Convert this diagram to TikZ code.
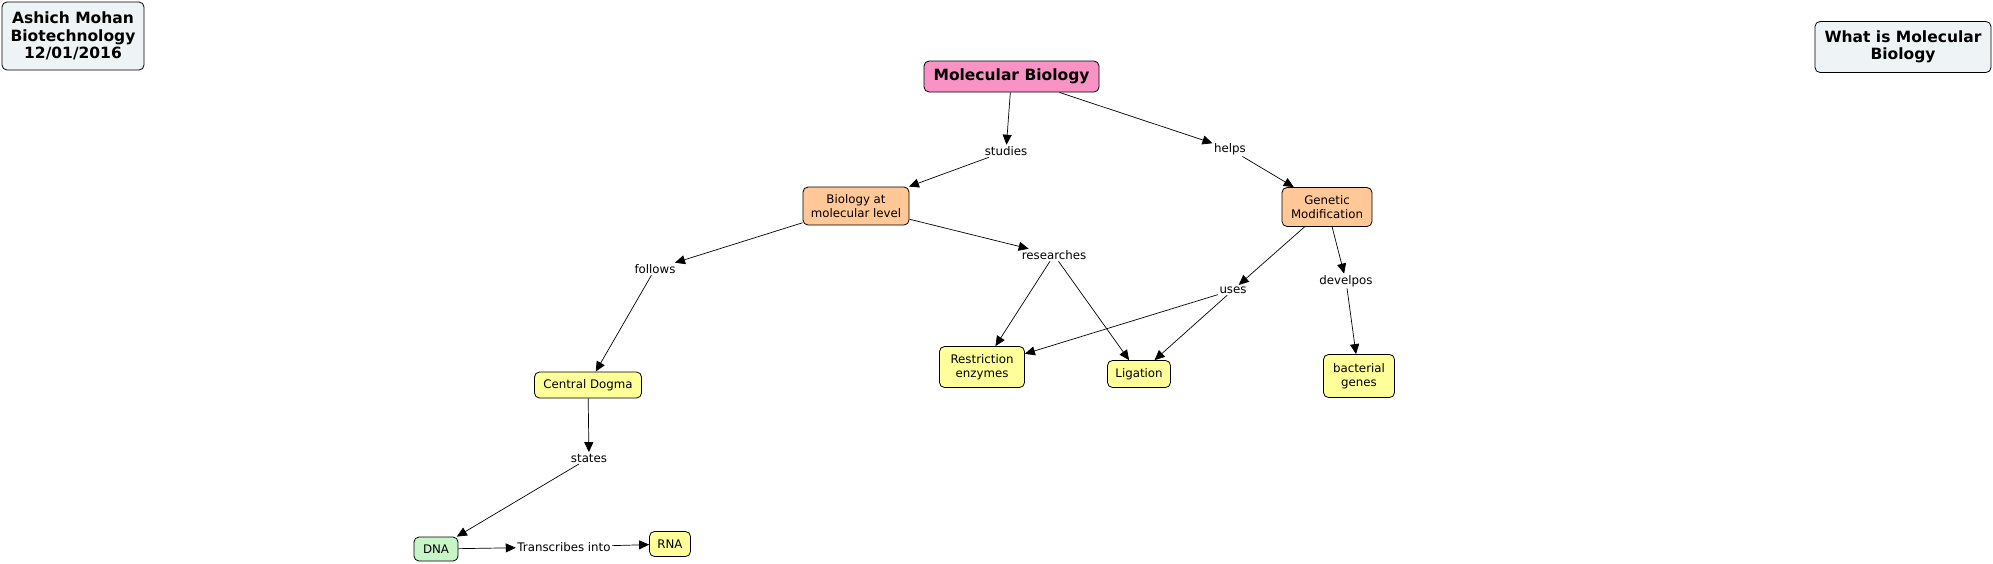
\documentclass[tikz,border=0pt]{standalone}
\usepackage{fontspec}
\setmainfont{DejaVu Sans}
\usetikzlibrary{arrows.meta}
\definecolor{cpink}{HTML}{F993C5}
\definecolor{corange}{HTML}{FFC896}
\definecolor{cyellow}{HTML}{FFFF99}
\definecolor{cgreen}{HTML}{C8F5C8}
\definecolor{ccorner}{HTML}{EEF4F6}
\tikzset{
  concept/.style={draw, rounded corners=5pt, line width=0.8pt, align=center, inner sep=2pt, font=\fontsize{11.8}{14}\selectfont},
  titlebox/.style={concept, font=\fontsize{15.5}{17.5}\selectfont\bfseries},
  lbl/.style={inner sep=1.5pt, font=\fontsize{11.8}{14}\selectfont},
  link/.style={draw, line width=0.7pt, -{Triangle[length=10pt,width=9pt]}},
}
\begin{document}
\begin{tikzpicture}[x=1pt,y=-1pt]
\useasboundingbox[fill=white] (0,0) rectangle (1993,563);
% concepts
\node[titlebox, fill=ccorner, minimum width=142pt, minimum height=68pt] (ashich) at (73,36) {Ashich Mohan\\Biotechnology\\12/01/2016};
\node[titlebox, fill=ccorner, minimum width=176pt, minimum height=51pt] (what) at (1903,47) {What is Molecular\\Biology};
\node[titlebox, fill=cpink, minimum width=175pt, minimum height=31pt] (mb) at (1011.5,76.5) {Molecular Biology};
\node[concept, fill=corange, minimum width=106pt, minimum height=38pt] (bio) at (856,206) {Biology at\\molecular level};
\node[concept, fill=corange, minimum width=90pt, minimum height=39pt] (gm) at (1327,207) {Genetic\\Modification};
\node[concept, fill=cyellow, minimum width=107pt, minimum height=26pt] (cd) at (588,385) {Central Dogma};
\node[concept, fill=cyellow, minimum width=85pt, minimum height=41pt] (re) at (982,367) {Restriction\\enzymes};
\node[concept, fill=cyellow, minimum width=63pt, minimum height=27pt] (lig) at (1139,374) {Ligation};
\node[concept, fill=cyellow, minimum width=71pt, minimum height=43pt] (bg) at (1359,376) {bacterial\\genes};
\node[concept, fill=cgreen, minimum width=44pt, minimum height=24pt] (dna) at (436,549) {DNA};
\node[concept, fill=cyellow, minimum width=41pt, minimum height=25pt] (rna) at (670,544) {RNA};
% link labels
\node[lbl] (studies) at (1006,151) {studies};
\node[lbl] (helps) at (1230,149) {helps};
\node[lbl] (follows) at (655,269) {follows};
\node[lbl] (researches) at (1054,255) {researches};
\node[lbl] (uses) at (1233,290) {uses};
\node[lbl] (develpos) at (1346,281) {develpos};
\node[lbl] (states) at (589,458) {states};
\node[lbl] (trans) at (564,547) {Transcribes into};
% connectors
\draw[link] (mb) -- (studies);
\draw[link] (studies) -- (bio);
\draw[link] (mb) -- (helps);
\draw[link] (helps) -- (gm);
\draw[link] (bio) -- (follows);
\draw[link] (follows) -- (cd);
\draw[link] (bio) -- (researches);
\draw[link] (researches) -- (re);
\draw[link] (researches) -- (lig);
\draw[link] (gm) -- (uses);
\draw[link] (uses) -- (re);
\draw[link] (uses) -- (lig);
\draw[link] (gm) -- (develpos);
\draw[link] (develpos) -- (bg);
\draw[link] (cd) -- (states);
\draw[link] (states) -- (dna);
\draw[link] (dna) -- (trans);
\draw[link] (trans) -- (rna);
\end{tikzpicture}
\end{document}
